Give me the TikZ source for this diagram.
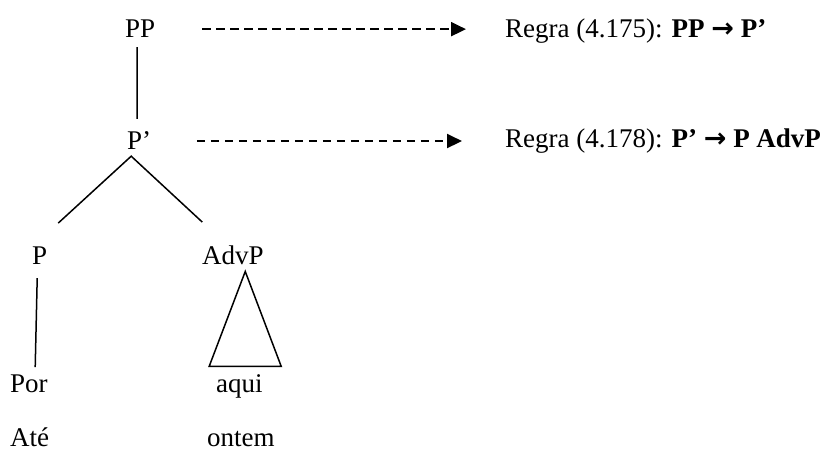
\documentclass[tikz,border=0pt]{standalone}
\usepackage{fontspec}
\setmainfont{Liberation Serif}
\newfontfamily\arrowfont{DejaVu Sans}
\usetikzlibrary{arrows.meta}
\tikzset{
  lbl/.style={inner sep=0pt, anchor=base west, font=\fontsize{27pt}{32pt}\selectfont},
  branch/.style={line width=1.5pt},
  dasharrow/.style={line width=2pt, dash pattern=on 8.5pt off 5.5pt, -{Triangle[length=15pt,width=14pt]}},
}
\newcommand{\rarr}{{\arrowfont\bfseries →}}
\begin{document}
\begin{tikzpicture}[x=1pt,y=1pt]
\useasboundingbox (0,0) rectangle (835,-449);
% tree labels
\node[lbl] (PP) at (125,-38) {PP};
\node[lbl] (Pp) at (127,-150) {P’};
\node[lbl] (P) at (32,-264) {P};
\node[lbl] (AdvP) at (202,-264) {AdvP};
\node[lbl] (Por) at (10,-392) {Por};
\node[lbl] (aqui) at (216,-392) {aqui};
\node[lbl] (Ate) at (10,-446) {Até};
\node[lbl] (ontem) at (207,-446) {ontem};
% rules
\node[lbl] (R1) at (505,-38) {Regra (4.175): \textbf{PP \rarr\ P’}};
\node[lbl] (R2) at (505,-148) {Regra (4.178): \textbf{P’ \rarr\ P AdvP}};
% tree connectors
\draw[branch, shorten <=9pt, shorten >=13pt] ([xshift=-3pt]PP.south) -- ([xshift=-2pt]Pp.north);
\coordinate (apex) at ([shift={(-8pt,-6pt)}]Pp.south);
\draw[branch] ([shift={(18.5pt,23pt)}]P.north) -- (apex) -- ([shift={(-30.7pt,23pt)}]AdvP.north);
\draw[branch] ([shift={(-2.5pt,-14pt)}]P.south) -- ([shift={(6.25pt,7pt)}]Por.north);
\draw[branch] ([shift={(12.3pt,-7pt)}]AdvP.south) -- ([shift={(-30.25pt,7.6pt)}]aqui.north)
  -- ([shift={(41.75pt,7.6pt)}]aqui.north) -- cycle;
% dashed arrows
\draw[dasharrow, shorten <=47pt, shorten >=39pt] (PP.east) -- (PP.east -| R1.west);
\draw[dasharrow, shorten <=45.5pt, shorten >=43pt] (Pp.east) -- (Pp.east -| R2.west);
\end{tikzpicture}
\end{document}
